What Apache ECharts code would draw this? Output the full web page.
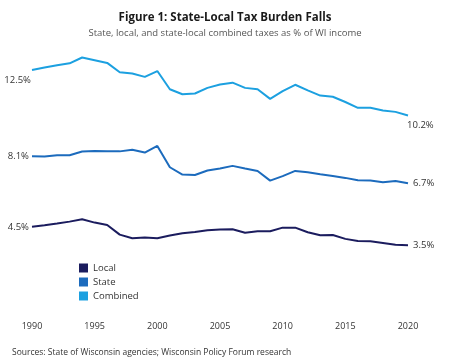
<!DOCTYPE html>
<html>
<head>
<meta charset="utf-8">
<script src="https://cdn.jsdelivr.net/npm/echarts@6/dist/echarts.min.js"></script>
<style>
html,body{margin:0;padding:0;background:#fff;}
#c{width:450px;height:363px;}
</style>
</head>
<body>
<div id="c"></div>
<script>
var years = [];
for (var y = 1990; y <= 2020; y++) years.push(String(y));
var local = [4.45,4.53,4.62,4.72,4.84,4.67,4.55,4.05,3.86,3.9,3.86,4.0,4.12,4.19,4.28,4.32,4.33,4.15,4.22,4.22,4.41,4.41,4.17,4.02,4.03,3.83,3.72,3.71,3.62,3.52,3.5];
var state = [8.1,8.08,8.15,8.15,8.34,8.37,8.35,8.35,8.43,8.29,8.63,7.53,7.15,7.13,7.36,7.47,7.6,7.46,7.34,6.84,7.07,7.34,7.27,7.17,7.08,6.98,6.86,6.84,6.76,6.82,6.7];
var combined = [12.55,12.68,12.8,12.9,13.2,13.06,12.92,12.44,12.37,12.2,12.5,11.56,11.3,11.34,11.63,11.8,11.9,11.63,11.56,11.06,11.46,11.79,11.5,11.23,11.17,10.9,10.6,10.6,10.46,10.39,10.2];
var endText = [['4.5%','3.5%'],['8.1%','6.7%'],['12.5%','10.2%']];
var seriesNames = ['Local','State','Combined'];
var colors = ['#1b1c5e','#1c6bbd','#1ca0e0'];

var FONT = '"Open Sans", "Noto Sans", sans-serif';
function endLabels(arr, texts, startOff, endOff) {
  return arr.map(function (v, i) {
    var item = { value: v };
    if (i === 0 || i === arr.length - 1) {
      var first = i === 0;
      var t = first ? texts[0] : texts[1];
      item.label = {
        show: true,
        position: first ? 'left' : 'right',
        offset: first ? startOff : endOff,
        formatter: function () { return t; },
        color: '#333',
        fontSize: 9.5,
        fontFamily: FONT
      };
    }
    return item;
  });
}
var seriesData = [
  endLabels(local, endText[0], [2,0], [0,0]),
  endLabels(state, endText[1], [2,0], [0,0]),
  endLabels(combined, endText[2], [4,10], [-6,10])
];

var chart = echarts.init(document.getElementById('c'), null, {renderer: 'canvas'});
chart.setOption({
  animation: false,
  backgroundColor: '#fff',
  title: [{
    text: 'Figure 1: State-Local Tax Burden Falls',
    left: 220, top: 7, textAlign: 'center',
    textStyle: { fontSize: 11.5, fontWeight: 'bold', color: '#1a1a1a', fontFamily: FONT }
  }, {
    text: 'State, local, and state-local combined taxes as % of WI income',
    left: 220, top: 23, textAlign: 'center',
    textStyle: { fontSize: 9.5, fontWeight: 'normal', color: '#555', fontFamily: FONT }
  }, {
    text: 'Sources: State of Wisconsin agencies; Wisconsin Policy Forum research',
    left: 7, top: 343,
    textStyle: { fontSize: 8.5, fontWeight: 'normal', color: '#333', fontFamily: FONT }
  }],
  legend: {
    orient: 'vertical',
    left: 74, top: 258,
    itemWidth: 9, itemHeight: 9, itemGap: 4,
    icon: 'rect',
    data: seriesNames,
    textStyle: { fontSize: 9.5, color: '#333', fontFamily: FONT }
  },
  grid: { left: 32, right: 42, top: 42, bottom: 50 },
  xAxis: {
    type: 'category',
    data: years,
    boundaryGap: false,
    axisLine: { show: false },
    axisTick: { show: false },
    splitLine: { show: false },
    axisLabel: { interval: 4, color: '#333', fontSize: 9, fontFamily: FONT, margin: 9 }
  },
  yAxis: {
    type: 'value', min: 0, max: 14, show: false
  },
  series: seriesNames.map(function (n, k) {
    return {
      name: n,
      type: 'line',
      data: seriesData[k],
      symbol: 'circle',
      symbolSize: 0.1,
      showSymbol: true,
      showAllSymbol: true,
      color: colors[k],
      lineStyle: { width: 2, color: colors[k] },
      itemStyle: { color: colors[k] }
    };
  })
});
</script>
</body>
</html>
